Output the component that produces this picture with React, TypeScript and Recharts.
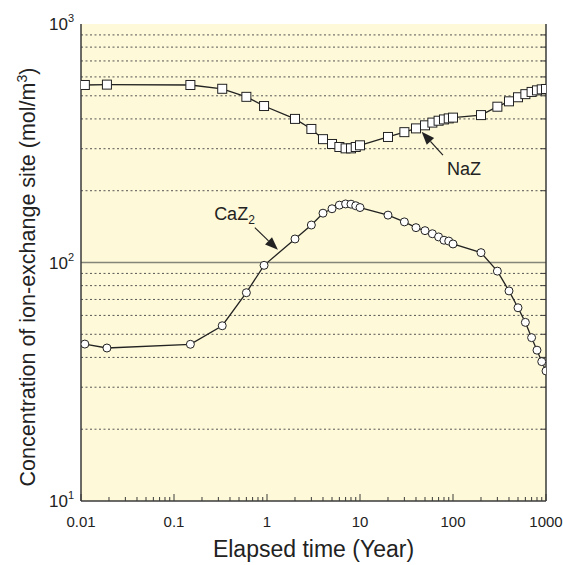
import {
  CartesianGrid,
  ComposedChart,
  Label,
  Line,
  ReferenceLine,
  XAxis,
  YAxis,
} from "recharts";

// elapsed time (year) of each computed point
const years = [
  0.011, 0.019, 0.15, 0.33, 0.6, 0.93, 2, 3, 4, 5, 6, 7, 8, 9, 10, 20, 30, 40,
  50, 60, 70, 80, 90, 100, 200, 300, 400, 500, 600, 700, 800, 900, 1000,
];
// NaZ (mol/m3)
const naZ = [
  555, 557, 555, 535, 495, 453, 400, 363, 329, 314, 305, 301, 301, 305, 310,
  336, 352, 365, 376, 386, 393, 398, 402, 405, 415, 450, 474, 493, 508, 519,
  527, 532, 534,
];
// CaZ2 (mol/m3)
const caZ2 = [
  45.5, 43.8, 45.4, 54.3, 74.7, 97.3, 125.5, 143.6, 161, 168, 174, 176, 175.6,
  173, 170, 158, 148, 140, 136, 132, 128, 124, 123, 119.6, 110, 92, 76, 64.6,
  56.1, 48.4, 42.9, 38.4, 35.1,
];

const xMajor = [0.01, 0.1, 1, 10, 100, 1000];
const xLabels = ["0.01", "0.1", "1", "10", "100", "1000"];
const xMinor = [0.01, 0.1, 1, 10, 100].flatMap((d) =>
  [2, 3, 4, 5, 6, 7, 8, 9].map((m) => d * m)
);
const yMajor = [10, 100, 1000];
const yExp = ["1", "2", "3"];
const yGrid = [20, 30, 40, 50, 60, 70, 80, 90, 200, 300, 400, 500, 600, 700, 800, 900];

const caArrow = [
  { x: 0.74, y: 140 },
  { x: 1.31, y: 113 },
];
const naArrow = [
  { x: 78, y: 282 },
  { x: 46, y: 353 },
];

const rows = years.map((t, i) => ({ t, naz: naZ[i], caz: caZ2[i] }));

const INK = "#222";
const AXIS = "#3a3a3a";
const FONT = "'Liberation Sans', Arial, sans-serif";

function BottomTick({ x, y, payload }: any) {
  const i = xMajor.indexOf(payload.value);
  return (
    <g>
      <line x1={x} x2={x} y1={y} y2={y - (i >= 0 ? 7 : 4)} stroke={AXIS} />
      {i >= 0 && (
        <text x={x} y={y + 26} textAnchor="middle" fontSize={15} fill={INK}>
          {xLabels[i]}
        </text>
      )}
    </g>
  );
}

function TopTick({ x, y, payload }: any) {
  const major = xMajor.indexOf(payload.value) >= 0;
  return <line x1={x} x2={x} y1={y} y2={y + (major ? 7 : 4)} stroke={AXIS} />;
}

function LeftTick({ x, y, payload }: any) {
  const i = yMajor.indexOf(payload.value);
  return (
    <text x={x - 7} y={y + 6} textAnchor="end" fontSize={17} fill={INK}>
      <tspan>10</tspan>
      <tspan dy={-8} fontSize={11}>
        {yExp[i]}
      </tspan>
    </text>
  );
}

function RightTick({ x, y }: any) {
  return <line x1={x} x2={x - 5} y1={y} y2={y} stroke={AXIS} />;
}

function SquareDot({ cx, cy, index }: any) {
  return (
    <rect key={index} x={cx - 4.5} y={cy - 4.5} width={9} height={9} fill="#fff" stroke={INK} strokeWidth={1} />
  );
}

function CircleDot({ cx, cy, index }: any) {
  return <circle key={index} cx={cx} cy={cy} r={4} fill="#fff" stroke={INK} strokeWidth={1} />;
}

function arrow(text: string, sub: string | null, tx: number, ty: number, anchor: string) {
  return (p: any) => {
    const { x1, y1, x2, y2 } = p;
    const a = Math.atan2(y2 - y1, x2 - x1);
    const L = 13;
    const W = 5;
    const bx = x2 - L * Math.cos(a);
    const by = y2 - L * Math.sin(a);
    const nx = -Math.sin(a) * W;
    const ny = Math.cos(a) * W;
    return (
      <g>
        <line x1={x1} y1={y1} x2={bx} y2={by} stroke={INK} strokeWidth={1.2} />
        <polygon points={`${x2},${y2} ${bx + nx},${by + ny} ${bx - nx},${by - ny}`} fill={INK} />
        <text x={x1 + tx} y={y1 + ty} textAnchor={anchor} fontSize={18} fill={INK}>
          <tspan>{text}</tspan>
          {sub && (
            <tspan dy={4} fontSize={12}>
              {sub}
            </tspan>
          )}
        </text>
      </g>
    );
  };
}

export default function App() {
  return (
    <div
      style={{
        position: "absolute",
        left: 0,
        top: 0,
        width: 563,
        height: 565,
        background: "#fff",
        fontFamily: FONT,
      }}
    >
      <ComposedChart width={563} height={565} data={rows} margin={{ top: 24, right: 0, bottom: 0, left: 0 }}>
        <CartesianGrid fill="#FEF9D8" horizontal={false} vertical={false} />
        {yGrid.map((v) => (
          <ReferenceLine key={v} y={v} stroke="#555" strokeDasharray="2 2.5" />
        ))}
        <ReferenceLine y={100} stroke="#85857a" strokeWidth={1.5} />
        <XAxis
          dataKey="t"
          type="number"
          scale="log"
          domain={[0.01, 1000]}
          allowDataOverflow
          ticks={[...xMajor, ...xMinor]}
          tick={<BottomTick />}
          tickLine={false}
          tickSize={0}
          tickMargin={0}
          interval={0}
          height={64}
          stroke={AXIS}
          strokeWidth={1.5}
        >
          <Label value="Elapsed time (Year)" position="insideBottom" offset={8} style={{ fontSize: 23, fill: INK }} />
        </XAxis>
        <XAxis
          xAxisId="top"
          orientation="top"
          dataKey="t"
          type="number"
          scale="log"
          domain={[0.01, 1000]}
          allowDataOverflow
          ticks={[...xMajor, ...xMinor]}
          tick={<TopTick />}
          tickLine={false}
          tickSize={0}
          tickMargin={0}
          interval={0}
          height={0}
          stroke={AXIS}
          strokeWidth={1.5}
        />
        <YAxis
          type="number"
          scale="log"
          domain={[10, 1000]}
          allowDataOverflow
          ticks={yMajor}
          tick={<LeftTick />}
          tickLine={false}
          tickSize={0}
          tickMargin={0}
          interval={0}
          width={81}
          stroke={AXIS}
          strokeWidth={1.5}
        >
          <Label
            content={() => (
              <text transform="translate(35, 277) rotate(-90)" textAnchor="middle" fontSize={21.5} fill={INK}>
                <tspan>Concentration of ion-exchange site (mol/m</tspan>
                <tspan dy={-8} fontSize={14}>
                  3
                </tspan>
                <tspan dy={8}>)</tspan>
              </text>
            )}
          />
        </YAxis>
        <YAxis
          yAxisId="r"
          orientation="right"
          type="number"
          scale="log"
          domain={[10, 1000]}
          allowDataOverflow
          ticks={yGrid}
          tick={<RightTick />}
          tickLine={false}
          tickSize={0}
          tickMargin={0}
          interval={0}
          width={17}
          stroke={AXIS}
          strokeWidth={1.5}
        />
        <Line dataKey="naz" stroke={INK} strokeWidth={1.3} dot={SquareDot} isAnimationActive={false} />
        <Line dataKey="caz" stroke={INK} strokeWidth={1.3} dot={CircleDot} isAnimationActive={false} />
        <ReferenceLine segment={caArrow} shape={arrow("CaZ", "2", 0, -8, "end")} />
        <ReferenceLine segment={naArrow} shape={arrow("NaZ", null, 4, 20, "start")} />
      </ComposedChart>
    </div>
  );
}
